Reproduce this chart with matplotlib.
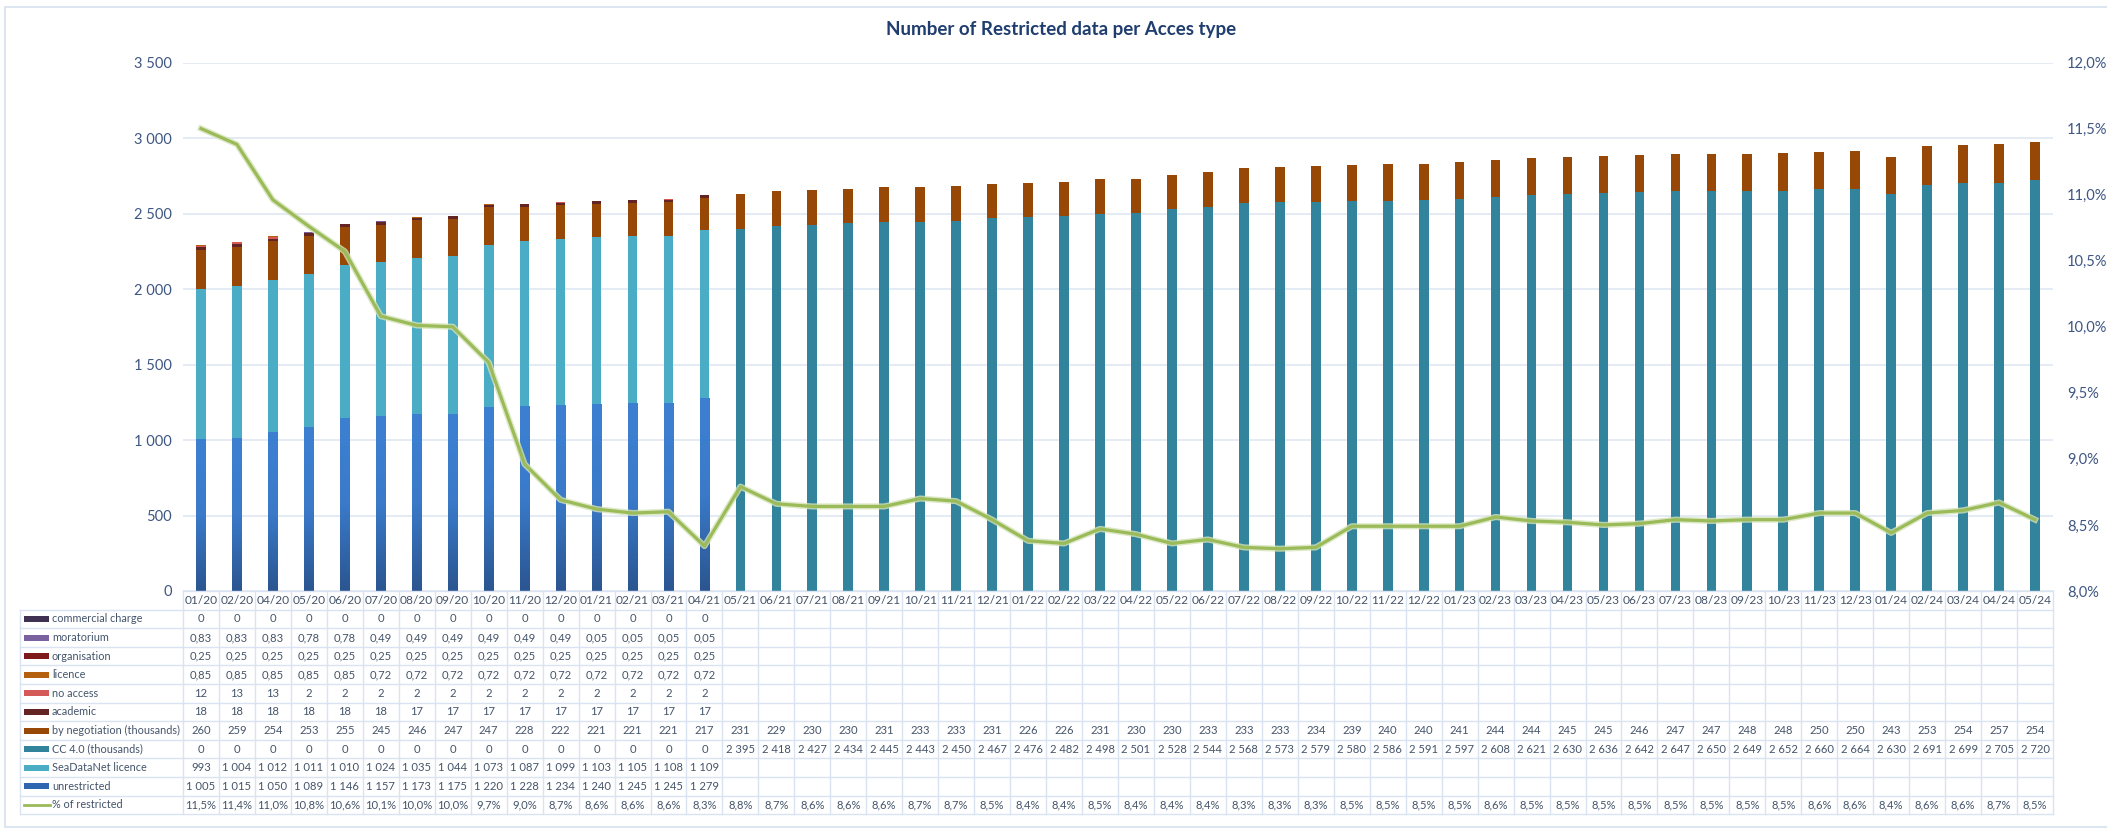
import numpy as np
import matplotlib
matplotlib.use('Agg')
import matplotlib.pyplot as plt
from matplotlib.patches import Rectangle
from matplotlib.lines import Line2D
from matplotlib.colors import LinearSegmentedColormap
import matplotlib.patheffects as pe
import matplotlib.ticker as mticker

plt.rcParams['font.family'] = ['Lato', 'DejaVu Sans']

# ---------------- data ----------------
dates = ['01/20', '02/20', '04/20', '05/20', '06/20', '07/20', '08/20', '09/20', '10/20', '11/20',
         '12/20', '01/21', '02/21', '03/21', '04/21', '05/21', '06/21', '07/21', '08/21', '09/21',
         '10/21', '11/21', '12/21', '01/22', '02/22', '03/22', '04/22', '05/22', '06/22', '07/22',
         '08/22', '09/22', '10/22', '11/22', '12/22', '01/23', '02/23', '03/23', '04/23', '05/23',
         '06/23', '07/23', '08/23', '09/23', '10/23', '11/23', '12/23', '01/24', '02/24', '03/24',
         '04/24', '05/24']

BLANK = [None] * 37  # months where the old categories are no longer reported

commercial_charge = [0, 0, 0, 0, 0, 0, 0, 0, 0, 0, 0, 0, 0, 0, 0] + BLANK
moratorium = [0.83, 0.83, 0.83, 0.78, 0.78, 0.49, 0.49, 0.49, 0.49, 0.49, 0.49, 0.05, 0.05, 0.05, 0.05] + BLANK
organisation = [0.25, 0.25, 0.25, 0.25, 0.25, 0.25, 0.25, 0.25, 0.25, 0.25, 0.25, 0.25, 0.25, 0.25, 0.25] + BLANK
licence = [0.85, 0.85, 0.85, 0.85, 0.85, 0.72, 0.72, 0.72, 0.72, 0.72, 0.72, 0.72, 0.72, 0.72, 0.72] + BLANK
no_access = [12, 13, 13, 2, 2, 2, 2, 2, 2, 2, 2, 2, 2, 2, 2] + BLANK
academic = [18, 18, 18, 18, 18, 18, 17, 17, 17, 17, 17, 17, 17, 17, 17] + BLANK
by_negotiation = [260, 259, 254, 253, 255, 245, 246, 247, 247, 228, 222, 221, 221, 221, 217,
                  231, 229, 230, 230, 231, 233, 233, 231, 226, 226, 231, 230, 230, 233, 233,
                  233, 234, 239, 240, 240, 241, 244, 244, 245, 245, 246, 247, 247, 248, 248,
                  250, 250, 243, 253, 254, 257, 254]
cc40 = [0, 0, 0, 0, 0, 0, 0, 0, 0, 0, 0, 0, 0, 0, 0,
        2395, 2418, 2427, 2434, 2445, 2443, 2450, 2467, 2476, 2482, 2498, 2501, 2528, 2544, 2568,
        2573, 2579, 2580, 2586, 2591, 2597, 2608, 2621, 2630, 2636, 2642, 2647, 2650, 2649, 2652,
        2660, 2664, 2630, 2691, 2699, 2705, 2720]
seadatanet = [993, 1004, 1012, 1011, 1010, 1024, 1035, 1044, 1073, 1087, 1099, 1103, 1105, 1108, 1109] + BLANK
unrestricted = [1005, 1015, 1050, 1089, 1146, 1157, 1173, 1175, 1220, 1228, 1234, 1240, 1245, 1245, 1279] + BLANK
# % of restricted (table shows it rounded to one decimal)
pct_restricted = [11.50, 11.38, 10.96, 10.76, 10.57, 10.08, 10.01, 10.00, 9.73, 8.96,
                  8.69, 8.62, 8.59, 8.60, 8.34, 8.79, 8.66, 8.64, 8.64, 8.64,
                  8.70, 8.68, 8.54, 8.38, 8.36, 8.47, 8.43, 8.36, 8.39, 8.33,
                  8.32, 8.33, 8.49, 8.49, 8.49, 8.49, 8.56, 8.53, 8.52, 8.50,
                  8.51, 8.54, 8.53, 8.54, 8.54, 8.59, 8.59, 8.44, 8.59, 8.61,
                  8.67, 8.54]

series_names = ['unrestricted', 'SeaDataNet licence', 'CC 4.0 (thousands)', 'by negotiation (thousands)',
                'academic', 'no access', 'licence', 'organisation', 'moratorium', 'commercial charge']
series_values = [unrestricted, seadatanet, cc40, by_negotiation, academic, no_access, licence,
                 organisation, moratorium, commercial_charge]
series_colors = ['#3572BF', '#4BACC6', '#31849B', '#974706', '#632523', '#D55A57', '#B5600F',
                 '#7E1A1A', '#7A62A0', '#3F3151']
line_color = '#9BBB59'

# ---------------- figure ----------------
W, H = 2107, 834
fig = plt.figure(figsize=(W / 100, H / 100), dpi=100)
fig.patch.set_facecolor('white')

left_px, right_px, top_px, bottom_px = 183, 2053, 62.5, 591
ax = fig.add_axes([left_px / W, 1 - bottom_px / H, (right_px - left_px) / W, (bottom_px - top_px) / H])
ax.set_facecolor('none')

x = np.arange(len(dates))
bar_w = 0.27
bottom = np.zeros(len(dates))
containers = []
for name, vals, col in zip(series_names, series_values, series_colors):
    v = np.array([0 if vv is None else vv for vv in vals], dtype=float)
    c = ax.bar(x, v, bar_w, bottom=bottom, color=col, linewidth=0, zorder=2)
    containers.append(c)
    bottom += v

# gradient on unrestricted bars
grad_cmap = LinearSegmentedColormap.from_list('g', ['#2B5590', '#3A7AC9', '#3D80D2'])
grad = np.linspace(0, 1, 256).reshape(-1, 1)
for patch in containers[0].patches:
    h = patch.get_height()
    if h <= 0:
        continue
    x0 = patch.get_x()
    im = ax.imshow(grad, cmap=grad_cmap, origin='lower', aspect='auto',
                   extent=(x0, x0 + patch.get_width(), 0, h), zorder=2.1)
    im.set_clip_path(patch)

ax.set_xlim(-0.5, len(dates) - 0.5)
ax.set_ylim(0, 3500)
ax.yaxis.set_major_locator(mticker.MultipleLocator(500))
ax.yaxis.set_major_formatter(mticker.FuncFormatter(lambda v, p: f"{int(v):,}".replace(',', ' ')))
ax.grid(axis='y', color='#DCE5F3', linewidth=1.1, zorder=0)
ax.set_axisbelow(True)
ax.set_xticks([])
for s in ax.spines.values():
    s.set_visible(False)
tick_col = '#3E5682'
ax.tick_params(axis='y', length=0, pad=8, labelsize=10.5, labelcolor=tick_col)

ax2 = ax.twinx()
ax2.set_ylim(8.0, 12.0)
ax2.yaxis.set_major_locator(mticker.MultipleLocator(0.5))
ax2.yaxis.set_major_formatter(mticker.FuncFormatter(lambda v, p: f"{v:.1f}%".replace('.', ',')))
ax2.tick_params(axis='y', length=0, pad=10, labelsize=10.5, labelcolor=tick_col)
for s in ax2.spines.values():
    s.set_visible(False)
ax2.plot(x, pct_restricted, color=line_color, linewidth=2.3, zorder=5,
         path_effects=[pe.Stroke(linewidth=4.4, foreground='#D5E3B8', alpha=0.8), pe.Normal()])

fig.text(1061 / W, 1 - 30 / H, 'Number of Restricted data per Acces type', ha='center', va='center',
         fontsize=13.5, fontweight='bold', color='#1F3D6E')

# ---------------- data table ----------------
ov = fig.add_axes([0, 0, 1, 1])
ov.set_xlim(0, W)
ov.set_ylim(H, 0)
ov.axis('off')
ov.patch.set_alpha(0)

def px(xd):
    return ax.transData.transform((xd, 0))[0]

col_edges = [px(i - 0.5) for i in range(len(dates) + 1)]
col_centers = [px(i) for i in range(len(dates))]
grid_col = '#DAE3F1'
txt_col = '#44546A'
row_h = 18.6
header_top = 591
rows_top = header_top + row_h
legend_left = 20

# header row
for cx, d in zip(col_centers, dates):
    ov.text(cx, header_top + row_h / 2, d, ha='center', va='center', fontsize=8.6, color=txt_col)

table_rows = [('commercial charge', commercial_charge, '#3F3151'),
              ('moratorium', moratorium, '#7A62A0'),
              ('organisation', organisation, '#7E1A1A'),
              ('licence', licence, '#B5600F'),
              ('no access', no_access, '#D55A57'),
              ('academic', academic, '#632523'),
              ('by negotiation (thousands)', by_negotiation, '#974706'),
              ('CC 4.0 (thousands)', cc40, '#31849B'),
              ('SeaDataNet licence', seadatanet, '#4BACC6'),
              ('unrestricted', unrestricted, '#2F66B0'),
              ('% of restricted', pct_restricted, None)]

def fmt(v, is_pct=False):
    if v is None:
        return ''
    if is_pct:
        return f"{v:.1f}%".replace('.', ',')
    if float(v) != int(v):
        return f"{v:.2f}".replace('.', ',')
    return f"{int(v):,}".replace(',', ' ')

for r, (label, vals, col) in enumerate(table_rows):
    yc = rows_top + r * row_h + row_h / 2
    if col is not None:
        ov.add_patch(Rectangle((24, yc - 3), 25, 6, color=col, lw=0))
    else:
        ov.add_line(Line2D([24, 50], [yc, yc], color=line_color, lw=2))
    ov.text(52, yc, label, ha='left', va='center', fontsize=7.8, color=txt_col)
    is_pct = label.startswith('%')
    for cx, v in zip(col_centers, vals):
        s = fmt(v, is_pct)
        if s:
            ov.text(cx, yc, s, ha='center', va='center', fontsize=8.1, color=txt_col)

table_bottom = rows_top + len(table_rows) * row_h
# horizontal lines
ov.add_line(Line2D([col_edges[0], col_edges[-1]], [header_top, header_top], color=grid_col, lw=1))
for r in range(len(table_rows) + 1):
    y = rows_top + r * row_h
    ov.add_line(Line2D([legend_left, col_edges[-1]], [y, y], color=grid_col, lw=1))
# vertical lines
for e in col_edges:
    ov.add_line(Line2D([e, e], [header_top, table_bottom], color=grid_col, lw=1))
ov.add_line(Line2D([legend_left, legend_left], [rows_top, table_bottom], color=grid_col, lw=1))

# chart border
ov.add_patch(Rectangle((5, 7), W - 4, 820, fill=False, edgecolor='#D6E0EE', lw=1.2))

fig.savefig('out.png', dpi=100, facecolor='white')
